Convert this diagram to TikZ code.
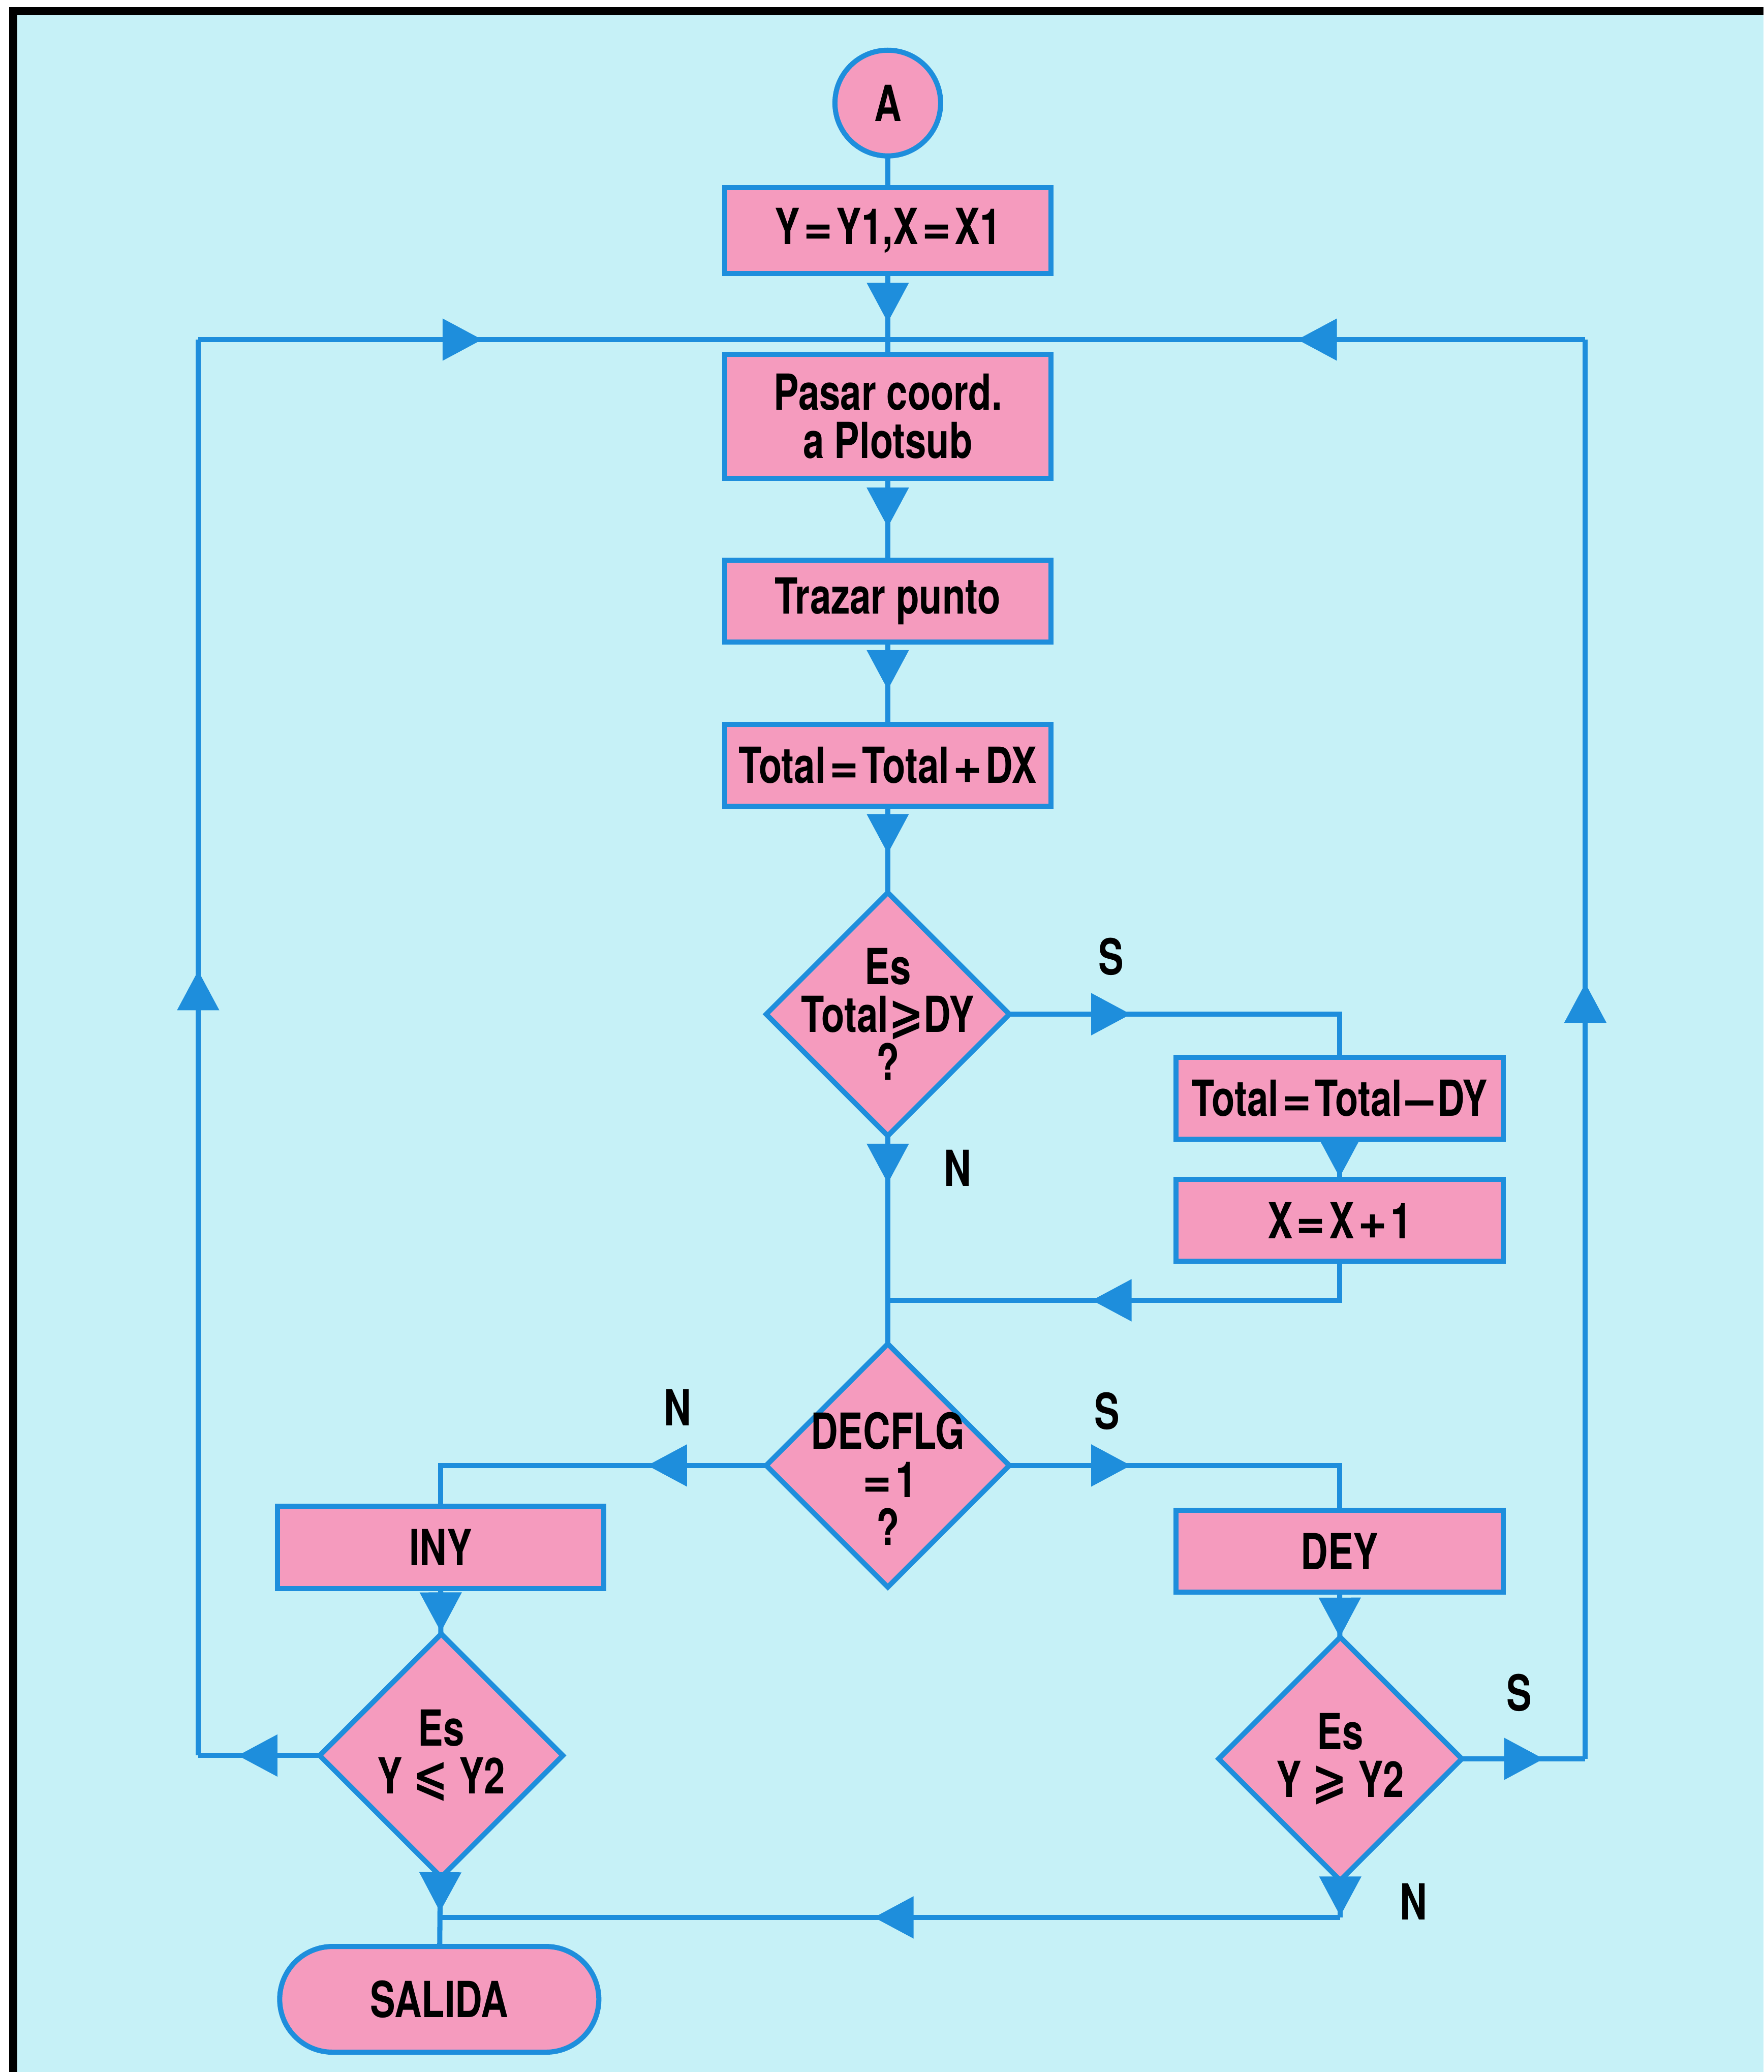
\documentclass[tikz,border=0pt]{standalone}
\usepackage{fontspec}
\setmainfont{TeX Gyre Heros}[FakeStretch=0.76]
\newfontfamily\simbolo{TeX Gyre Heros}
\newfontfamily\rel{DejaVu Sans}[FakeStretch=0.85]
\usetikzlibrary{arrows.meta,positioning,shapes.geometric,shapes.misc,decorations.markings}

\definecolor{fondo}{HTML}{C6F1F7}
\definecolor{rosa}{HTML}{F59BBE}
\definecolor{azul}{HTML}{1E8EDC}

\newcommand{\ig}{\kern0.8pt{\simbolo=}\kern0.8pt}
\newcommand{\mas}{\kern0.8pt{\simbolo+}\kern0.8pt}
\newcommand{\menos}{\kern0.8pt{\simbolo\textendash}\kern0.8pt}
\newcommand{\mayig}{{\rel ⩾}}
\newcommand{\menig}{{\rel ⩽}}

\tikzset{
  caja/.style={rectangle,draw=azul,fill=rosa,line width=1.1pt,minimum width=2.47cm,minimum height=0.62cm,inner sep=0pt,outer sep=0pt,align=center},
  rombo/.style={diamond,draw=azul,fill=rosa,line width=1.1pt,minimum width=1.84cm,minimum height=1.84cm,inner sep=0pt,outer sep=0pt},
  linea/.style={draw=azul,line width=1.1pt},
  flecha/.style={linea,postaction={decorate},decoration={markings,mark=at position #1 with {\arrow[azul]{Triangle[width=3.1mm,length=3mm]}}}}
}

\begin{document}
\begin{tikzpicture}[font=\fontsize{10.7}{10.3}\selectfont\bfseries]
\useasboundingbox (0,0) rectangle (13.35,-15.68);
\fill[fondo] (0.10,-0.085) rectangle (13.35,-15.68);
\draw[line width=1.8pt] (0.10,-15.68) -- (0.10,-0.085) -- (13.35,-0.085);

% main column
\node[circle,draw=azul,fill=rosa,line width=1.1pt,minimum size=0.8cm,inner sep=0pt,outer sep=0pt] (a) at (6.72,-0.78) {A};
\node[caja,minimum height=0.65cm] (set) at (6.72,-1.745) {Y\ig Y1,X\ig X1};
\node[caja,minimum height=0.94cm] (pasar) at (6.72,-3.15) {Pasar coord.\\a Plotsub};
\node[caja] (trazar) at (6.72,-4.55) {Trazar punto};
\node[caja] (sumdx) at (6.72,-5.79) {Total\ig Total\mas DX};
\node[rombo,label={[align=center]center:Es\\Total\mayig DY\\?}] (dtot) at (6.72,-7.675) {};
\node[rombo,label={[align=center,yshift=-0.1cm]center:DECFLG\\\ig 1\\?}] (dflag) at (6.72,-11.09) {};

% right branch
\node[caja,minimum width=2.48cm] (restdy) at (10.14,-8.31) {Total\ig Total\menos DY};
\node[caja,minimum width=2.48cm] (incx) at (10.14,-9.235) {X\ig X\mas 1};
\node[caja,minimum width=2.48cm] (dey) at (10.14,-11.74) {DEY};
\node[rombo,label={[align=center]center:Es\\Y \mayig\ Y2}] (dge) at (10.145,-13.31) {};

% left branch
\node[caja] (iny) at (3.335,-11.71) {INY};
\node[rombo,label={[align=center]center:Es\\Y \menig\ Y2}] (dle) at (3.34,-13.285) {};
\node[rounded rectangle,draw=azul,fill=rosa,line width=1.1pt,minimum width=2.65cm,minimum height=0.8cm,outer sep=0pt] (salida) at (3.325,-15.13) {SALIDA};

% S / N
\node (s1) at (8.41,-7.24) {S};
\node (n1) at (7.25,-8.84) {N};
\node (n2) at (5.13,-10.65) {N};
\node (s2) at (8.38,-10.68) {S};
\node (s3) at (11.50,-12.81) {S};
\node (n3) at (10.70,-14.39) {N};

% junctions
\coordinate (j0) at (6.72,-2.57);
\coordinate (j1) at (6.72,-9.84);
\coordinate (j2) at (3.34,-14.51);
\coordinate (esqa) at (1.50,-13.285);
\coordinate (izq) at (1.50,-2.57);
\coordinate (esqb) at (12.00,-13.31);
\coordinate (der) at (12.00,-2.57);
\coordinate (esqc) at (10.145,-14.51);

\draw[linea] (a) -- (set);
\draw[flecha=0.37cm] (set) -- (pasar);
\draw[flecha=0.37cm] (pasar) -- (trazar);
\draw[flecha=0.36cm] (trazar) -- (sumdx);
\draw[flecha=0.36cm] (sumdx) -- (dtot);
\draw[flecha=0.36cm] (dtot) -- (dflag);
\draw[flecha=0.92cm] (dtot.east) -| (restdy);
\draw[flecha=0.29cm] (restdy) -- (incx);
\draw[flecha=2.17cm] (incx) |- (j1);
\draw[flecha=0.90cm] (dflag.west) -| (iny);
\draw[flecha=0.92cm] (dflag.east) -| (dey);
\draw[flecha=0.33cm] (iny) -- (dle);
\draw[flecha=0.34cm] (dey) -- (dge);
\draw[flecha=0.27cm] (dle) -- (salida);

% loops back to the top
\draw[flecha=0.62cm] (dle.west) -- (esqa);
\draw[flecha=5.94cm] (esqa) -- (izq);
\draw[flecha=2.15cm] (izq) -- (j0);
\draw[flecha=0.62cm] (dge.east) -- (esqb);
\draw[flecha=5.87cm] (esqb) -- (der);
\draw[flecha=2.18cm] (der) -- (j0);
\draw[flecha=0.27cm] (dge) -- (esqc);
\draw[flecha=3.53cm] (esqc) -- (j2);
\end{tikzpicture}
\end{document}
